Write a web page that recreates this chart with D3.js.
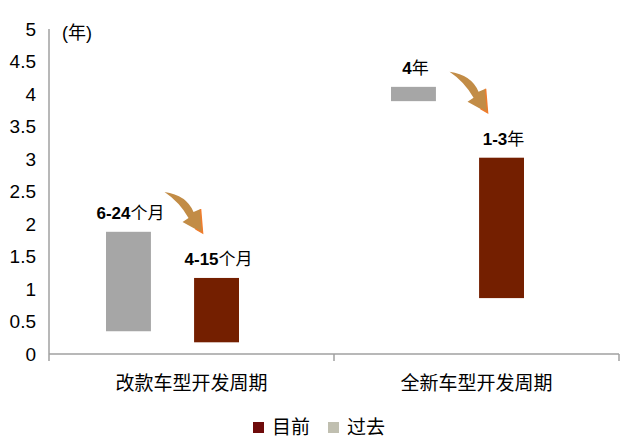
<html>
<head>
<meta charset="utf-8">
<style>
  body { margin: 0; background: #fff; }
  text { font-family: "Liberation Sans", Arial, "Noto Sans CJK SC", sans-serif; }
  .cjk { font-family: "Noto Sans CJK SC", sans-serif; }
</style>
</head>
<body>
<script src="https://cdn.jsdelivr.net/npm/d3@7"></script>
<script>
// 数据
var categories = ["改款车型开发周期", "全新车型开发周期"];
var pastLow  = [0.35, 3.89];
var pastHigh = [1.88, 4.11];
var nowLow   = [0.18, 0.86];
var nowHigh  = [1.17, 3.02];
var pastNum  = ["6-24", "4"];
var pastUnit = ["个月", "年"];
var nowNum   = ["4-15", "1-3"];
var nowUnit  = ["个月", "年"];
var yTicks   = [0, 0.5, 1, 1.5, 2, 2.5, 3, 3.5, 4, 4.5, 5];
var series   = ["过去", "目前"];
var legendNames = ["目前", "过去"];

var width = 632, height = 446;
var colorBar = {"过去": "#a6a6a6", "目前": "#741f00"};
var colorLegend = {"目前": "#6e0b0b", "过去": "#c0bfb0"};

var svg = d3.select("body").append("svg")
    .attr("width", width)
    .attr("height", height);

var x = d3.scaleBand().domain(categories).range([49, 619]);
var y = d3.scaleLinear().domain([0, 5]).range([354, 29]);
// 组内位置
var inner = d3.scaleBand().domain(series).range([57, 190]).paddingInner(0.49);

var rows = categories.map(function(c, i) {
  return {
    cat: c,
    bars: [
      {s: "过去", lo: pastLow[i], hi: pastHigh[i], num: pastNum[i], unit: pastUnit[i]},
      {s: "目前", lo: nowLow[i], hi: nowHigh[i], num: nowNum[i], unit: nowUnit[i]}
    ]
  };
});

// y 轴
svg.append("line")
  .attr("x1", 49).attr("x2", 49)
  .attr("y1", y(5)).attr("y2", y(0) + 7)
  .attr("stroke", "#a0a0a0").attr("stroke-width", 1.5);

svg.append("g").selectAll("text")
  .data(yTicks)
  .join("text")
  .attr("x", 36)
  .attr("y", d => y(d))
  .attr("dy", "0.36em")
  .attr("text-anchor", "end")
  .attr("font-size", 19)
  .attr("fill", "#000")
  .text(d => d);

svg.append("text")
  .attr("x", 62).attr("y", 39)
  .attr("font-size", 18)
  .text("(年)");

// x 轴
svg.append("line")
  .attr("x1", 49).attr("x2", 619)
  .attr("y1", y(0)).attr("y2", y(0))
  .attr("stroke", "#a0a0a0").attr("stroke-width", 1.5);

svg.append("g").selectAll("line")
  .data([x(categories[1]), x(categories[1]) + x.bandwidth()])
  .join("line")
  .attr("x1", d => d).attr("x2", d => d)
  .attr("y1", y(0)).attr("y2", y(0) + 7)
  .attr("stroke", "#a0a0a0").attr("stroke-width", 1.5);

svg.append("g").selectAll("text")
  .data(categories)
  .join("text")
  .attr("class", "cjk")
  .attr("x", d => x(d) + x.bandwidth() / 2)
  .attr("y", 390)
  .attr("text-anchor", "middle")
  .attr("font-size", 19)
  .text(d => d);

// 柱
var groups = svg.append("g").selectAll("g")
  .data(rows)
  .join("g")
  .attr("transform", d => "translate(" + x(d.cat) + ",0)");

groups.selectAll("rect")
  .data(d => d.bars)
  .join("rect")
  .attr("x", d => inner(d.s))
  .attr("width", inner.bandwidth())
  .attr("y", d => y(d.hi))
  .attr("height", d => y(d.lo) - y(d.hi))
  .attr("fill", d => colorBar[d.s]);

var lab = groups.selectAll("text")
  .data(d => d.bars)
  .join("text")
  .attr("x", d => inner(d.s) + inner.bandwidth() / 2 + 2)
  .attr("y", d => y(d.hi) - 13)
  .attr("text-anchor", "middle")
  .attr("font-size", 17);
lab.append("tspan").attr("font-weight", "bold").text(d => d.num);
lab.append("tspan").attr("class", "cjk").attr("font-size", 17).text(d => d.unit);

// 箭头
var arrowPath = "M0,0 Q22,3 29,20 L36,17 L38,41 L18,30 L24,26 Q15,10 0,0 Z";
groups.append("g")
  .attr("transform", function(d) {
    var now = d.bars[1];
    var tx = inner(now.s) + inner.bandwidth() / 2 - 14;
    var ty = y(now.hi) - 19 - 27;
    return "translate(" + (tx - 38) + "," + (ty - 40) + ")";
  })
  .call(function(g) {
    g.append("path").attr("d", arrowPath).attr("fill", "#c28c46");
    g.append("path").attr("d", "M36,17 L38,41 L31,37")
      .attr("fill", "none").attr("stroke", "#f07c2c").attr("stroke-width", 1.5);
  });

// 图例
var leg = svg.append("g").attr("transform", "translate(253,422)");
var legX = [0, 75];
leg.selectAll("rect")
  .data(legendNames)
  .join("rect")
  .attr("x", (d, i) => legX[i])
  .attr("y", 0)
  .attr("width", 11).attr("height", 11)
  .attr("fill", d => colorLegend[d]);
leg.selectAll("text")
  .data(legendNames)
  .join("text")
  .attr("class", "cjk")
  .attr("x", (d, i) => legX[i] + 19)
  .attr("y", 12)
  .attr("font-size", 19)
  .text(d => d);
</script>
</body>
</html>
